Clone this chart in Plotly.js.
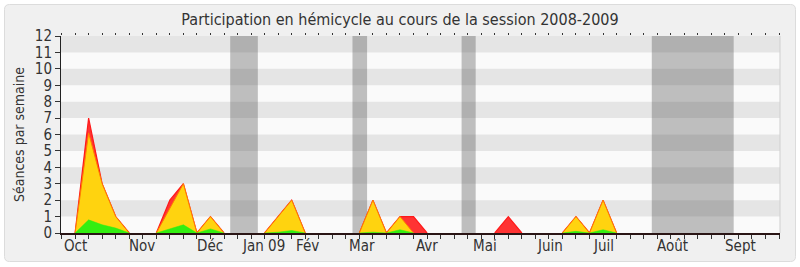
<!DOCTYPE html>
<html>
<head>
<meta charset="utf-8">
<script src="https://cdn.plot.ly/plotly-3.0.1.min.js"></script>
<style>html,body{margin:0;padding:0;background:#fff;}#chart{width:800px;height:267px;}</style>
</head>
<body>
<div id="chart"></div>
<script>
// Week index (0 = first week of October 2008)
const weeks = [];
for (let k = 0; k <= 52; k++) weeks.push(k);

// Total sessions per week (red, top)
const totalVals = [0,7,3,1,0,0,0,2,3,0,1,0,0,0,0,1,2,0,0,0,0,0,2,0,1,1,0,0,0,0,0,0,1,0,0,0,0,1,0,2,0,0,0,0,0,0,0,0,0,0,0,0,0];
// Present sessions (yellow, middle)
const presentVals = [0,6.1,3,1,0,0,0,1.5,3,0,1,0,0,0,0,1,2,0,0,0,0,0,2,0,1,0,0,0,0,0,0,0,0,0,0,0,0,1,0,2,0,0,0,0,0,0,0,0,0,0,0,0,0];
// Interventions (green, bottom)
const speakVals = [0,0.8,0.5,0.3,0,0,0,0.25,0.5,0,0.25,0,0,0,0,0.05,0.15,0,0,0,0,0,0.05,0,0.2,0,0,0,0,0,0,0,0,0,0,0,0,0.1,0,0.2,0,0,0,0,0,0,0,0,0,0,0,0,0];

// Month labels and their positions (in weeks)
const monthLabels = ["Oct","Nov","Déc","Jan 09","Fév","Mar","Avr","Mai","Juin","Juil","Août","Sept"];
const monthPos = [0.05,4.95,10,13.95,17.2,21.2,26,30.25,35.05,39.05,44.1,49.15];

// Parliamentary recess periods (start, end in weeks)
const recessStart = [11.46,20.49,28.55,42.6];
const recessEnd = [13.5,21.57,29.59,48.65];

// hide zero runs so no outline is drawn along the baseline
function gapZeros(arr){
  return arr.map((v,i)=>{
    if (v !== 0) return v;
    const prev = i>0 ? arr[i-1] : 0, next = i<arr.length-1 ? arr[i+1] : 0;
    return (prev===0 && next===0) ? null : 0;
  });
}

const W = 800, H = 267;
const M = {l:61, r:20, t:36, b:34};
const pw = W - M.l - M.r, ph = H - M.t - M.b;
const px = v => (v - M.l) / pw;
const py = v => (H - M.b - v) / ph;

const shapes = [];
// outer rounded frame
(function(){
  const x0=4.5,y0=4.5,x1=795.5,y1=261.5,r=5;
  const P=(x,y)=>px(x)+','+py(y);
  const d='M'+P(x0+r,y0)+' L'+P(x1-r,y0)+' Q'+P(x1,y0)+' '+P(x1,y0+r)+
    ' L'+P(x1,y1-r)+' Q'+P(x1,y1)+' '+P(x1-r,y1)+' L'+P(x0+r,y1)+' Q'+P(x0,y1)+' '+P(x0,y1-r)+
    ' L'+P(x0,y0+r)+' Q'+P(x0,y0)+' '+P(x0+r,y0)+' Z';
  shapes.push({type:'path',xref:'paper',yref:'paper',path:d,fillcolor:'#f0f0f0',line:{color:'#dcdcdc',width:1},layer:'below'});
})();
// plot background
shapes.push({type:'rect',xref:'paper',yref:'y',x0:0,x1:1,y0:0,y1:12,fillcolor:'#fafafa',line:{width:0},layer:'below'});
// horizontal stripes
for (let v = 1; v < 12; v += 2) {
  shapes.push({type:'rect',xref:'paper',yref:'y',x0:0,x1:1,y0:v,y1:v+1,fillcolor:'#e5e5e5',line:{width:0},layer:'below'});
}
// recess bands
for (let i = 0; i < recessStart.length; i++) {
  shapes.push({type:'rect',xref:'x',yref:'paper',x0:recessStart[i],x1:recessEnd[i],y0:0,y1:1,fillcolor:'rgba(70,70,70,0.33)',line:{width:0},layer:'below'});
}
// right border of plot area
shapes.push({type:'line',xref:'paper',yref:'paper',x0:1,x1:1,y0:0,y1:1,line:{color:'#cfcfcf',width:1}});

const annotations = monthLabels.map((t,i)=>({
  text:t, x:monthPos[i], xref:'x', y:0, yref:'paper', yanchor:'top', xanchor:'center',
  yshift:-2, showarrow:false, font:{size:15,color:'#333'}
}));

const traces = [
  {x:weeks, y:gapZeros(totalVals), type:'scatter', mode:'lines', fill:'tozeroy', fillcolor:'#ff3333', line:{color:'#ff1a1a',width:1.2}, hoverinfo:'skip'},
  {x:weeks, y:gapZeros(presentVals), type:'scatter', mode:'lines', fill:'tozeroy', fillcolor:'#ffd30f', line:{color:'#ff7f00',width:1}, hoverinfo:'skip'},
  {x:weeks, y:gapZeros(speakVals), type:'scatter', mode:'lines', fill:'tozeroy', fillcolor:'#33ee11', line:{color:'#33ee11',width:0.5}, hoverinfo:'skip'},
  {x:[], y:[], xaxis:'x2', type:'scatter', mode:'lines', hoverinfo:'skip'}
];

const layout = {
  width:W, height:H,
  margin:M,
  paper_bgcolor:'#ffffff',
  plot_bgcolor:'#fafafa',
  showlegend:false,
  font:{family:'"DejaVu Sans Condensed","DejaVu Sans",sans-serif', color:'#333'},
  title:{text:'Participation en hémicycle au cours de la session 2008-2009', x:0.5, xref:'container', y:1-19/267, yref:'container', yanchor:'middle', font:{size:16,color:'#333'}},
  xaxis:{range:[-1.04,52.07], tickmode:'linear', tick0:0, dtick:1, ticks:'outside', ticklen:4, tickcolor:'#333', showticklabels:false, showgrid:false, zeroline:false, showline:true, linecolor:'#2a1515', linewidth:1.5, fixedrange:true},
  xaxis2:{matches:'x', overlaying:'x', side:'top', tickmode:'linear', tick0:0, dtick:1, ticks:'outside', ticklen:2, tickcolor:'#333', showticklabels:false, showgrid:false, zeroline:false, showline:false},
  yaxis:{range:[0,12], tickmode:'linear', tick0:0, dtick:1, ticks:'outside', ticklen:5, tickcolor:'#333', showgrid:false, zeroline:false, showline:true, linecolor:'#222', linewidth:1, tickfont:{size:15,color:'#333'},
    title:{text:'Séances par semaine', font:{size:14,color:'#333'}, standoff:6}},
  shapes:shapes,
  annotations:annotations
};

Plotly.newPlot('chart', traces, layout, {staticPlot:true});
</script>
</body>
</html>
